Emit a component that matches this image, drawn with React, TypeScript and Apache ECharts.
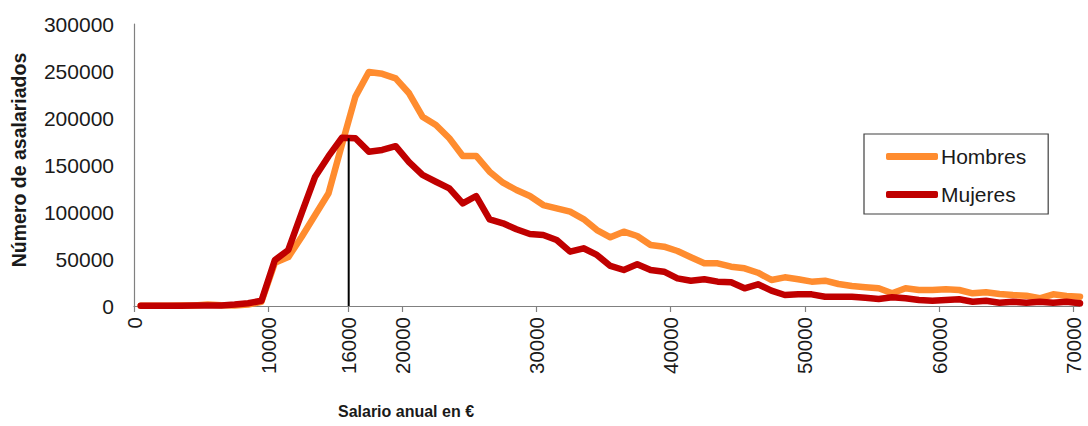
import React, { useEffect, useRef } from "react";
import * as echarts from "echarts";

// Bin centres of annual salary (€)
const salarios = [
  500, 1500, 2500, 3500, 4500, 5500, 6500, 7500, 8500, 9500,
  10500, 11500, 12500, 13500, 14500, 15500, 16500, 17500, 18500, 19500,
  20500, 21500, 22500, 23500, 24500, 25500, 26500, 27500, 28500, 29500,
  30500, 31500, 32500, 33500, 34500, 35500, 36500, 37500, 38500, 39500,
  40500, 41500, 42500, 43500, 44500, 45500, 46500, 47500, 48500, 49500,
  50500, 51500, 52500, 53500, 54500, 55500, 56500, 57500, 58500, 59500,
  60500, 61500, 62500, 63500, 64500, 65500, 66500, 67500, 68500, 69500,
  70500,
];

const hombres = [
  300, 300, 300, 500, 600, 1500, 800, 600, 1500, 4500,
  46000, 52000, 73700, 96800, 120000, 172000, 222700, 249000, 247000, 242200,
  226300, 201400, 192600, 178400, 159600, 159600, 142900, 131200, 123400, 117000,
  107400, 103900, 100300, 92500, 80800, 73100, 79100, 74500, 64900, 63100,
  58500, 51800, 45400, 45400, 41800, 40100, 35400, 27700, 30500, 28400,
  25900, 26900, 23400, 21300, 19900, 18800, 13500, 18800, 17000, 17000,
  17700, 17000, 13500, 14600, 12800, 11700, 11000, 8200, 12400, 10600,
  9900,
];

const mujeres = [
  200, 200, 200, 300, 400, 600, 500, 1500, 3000, 5600,
  48900, 59600, 99100, 137600, 159400, 179000, 178400, 164200, 166000, 170000,
  153000, 139400, 132200, 125200, 109200, 117000, 92200, 88000, 81600, 76600,
  75500, 70200, 57800, 61400, 54300, 42600, 38300, 44300, 38300, 36500,
  29400, 26900, 28400, 25900, 25200, 18800, 23100, 16300, 11700, 12400,
  12400, 9900, 9900, 9900, 8800, 7400, 9300, 8200, 6400, 5600,
  6400, 7100, 4600, 5600, 3500, 4600, 3500, 4600, 3500, 4600,
  2900,
];

const xTickLabels = [0, 10000, 16000, 20000, 30000, 40000, 50000, 60000, 70000];
const referenciaX = 16000;
const referenciaY = 178500;

const FONT = "'Liberation Sans', Arial, sans-serif";

export default function App() {
  const ref = useRef<HTMLDivElement>(null);

  useEffect(() => {
    if (!ref.current) return;
    const chart = echarts.init(ref.current, null, { renderer: "svg" });
    const hData = salarios.map((s, i) => [s, hombres[i]]);
    const mData = salarios.map((s, i) => [s, mujeres[i]]);

    chart.setOption({
      animation: false,
      backgroundColor: "#ffffff",
      textStyle: { fontFamily: FONT },
      grid: { left: 134, right: 8, top: 24, bottom: 120, containLabel: false },
      legend: {
        data: ["Hombres", "Mujeres"],
        orient: "vertical",
        left: 864,
        top: 134,
        padding: [12, 22, 9, 22],
        borderColor: "#404040",
        borderWidth: 1.2,
        icon: "roundRect",
        itemWidth: 52,
        itemHeight: 7,
        itemGap: 17,
        textStyle: { fontSize: 21, color: "#1a1a1a", fontFamily: FONT, padding: [0, 0, 0, -2] },
      },
      xAxis: {
        type: "value",
        min: 0,
        max: 70500,
        splitLine: { show: false },
        axisLine: { show: true, lineStyle: { color: "#808080", width: 1.2 } },
        axisTick: {
          show: true,
          customValues: xTickLabels,
          length: 6,
          lineStyle: { color: "#808080", width: 1.2 },
        },
        axisLabel: {
          customValues: xTickLabels,
          rotate: 90,
          margin: 11,
          fontSize: 20.5,
          color: "#1a1a1a",
          fontFamily: FONT,
          formatter: (v: number) => String(v),
        },
      },
      yAxis: {
        type: "value",
        min: 0,
        max: 300000,
        interval: 50000,
        splitLine: { show: false },
        axisLine: { show: true, lineStyle: { color: "#808080", width: 1.2 } },
        axisTick: { show: false },
        axisLabel: {
          margin: 20,
          fontSize: 21,
          color: "#1a1a1a",
          fontFamily: FONT,
          formatter: (v: number) => String(v),
        },
      },
      graphic: [
        {
          type: "text",
          x: 19,
          y: 160,
          rotation: Math.PI / 2,
          style: {
            text: "Número de asalariados",
            fontSize: 19.5,
            fontWeight: "bold",
            fontFamily: FONT,
            fill: "#1a1a1a",
            textAlign: "center",
            textVerticalAlign: "middle",
          },
        },
        {
          type: "text",
          x: 406,
          y: 411,
          style: {
            text: "Salario anual en €",
            fontSize: 16,
            fontWeight: "bold",
            fontFamily: FONT,
            fill: "#1a1a1a",
            textAlign: "center",
            textVerticalAlign: "middle",
          },
        },
      ],
      series: [
        {
          name: "Hombres",
          type: "line",
          data: hData,
          symbol: "none",
          lineStyle: { color: "#FF8C2F", width: 6.5, join: "round", cap: "round" },
          itemStyle: { color: "#FF8C2F" },
          z: 2,
        },
        {
          name: "Mujeres",
          type: "line",
          data: mData,
          symbol: "none",
          lineStyle: { color: "#C00000", width: 6.5, join: "round", cap: "round" },
          itemStyle: { color: "#C00000" },
          z: 3,
        },
        {
          name: "ref",
          type: "line",
          data: [
            [referenciaX, 0],
            [referenciaX, referenciaY],
          ],
          symbol: "none",
          silent: true,
          lineStyle: { color: "#000000", width: 2 },
          itemStyle: { color: "#000000" },
          z: 4,
        },
      ],
    });

    return () => chart.dispose();
  }, []);

  return (
    <div
      ref={ref}
      style={{ position: "absolute", left: 0, top: 0, width: 1088, height: 426 }}
    />
  );
}
